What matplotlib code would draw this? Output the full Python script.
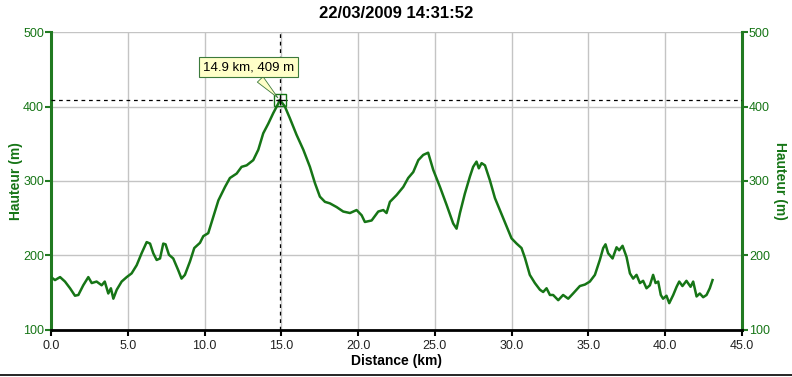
import matplotlib
matplotlib.use("Agg")
import matplotlib.pyplot as plt
from matplotlib.lines import Line2D

plt.rcParams['font.family'] = ['Liberation Sans', 'DejaVu Sans']

# elevation profile
dist_km = [0.0, 0.26, 0.59, 0.91, 1.24, 1.56, 1.78, 2.1, 2.43, 2.65, 2.97, 3.3, 3.5,
           3.73, 3.9, 4.06, 4.28, 4.6, 4.93, 5.25, 5.58, 5.9, 6.23, 6.45, 6.66, 6.88,
           7.1, 7.31, 7.46, 7.68, 7.96, 8.29, 8.5, 8.72, 9.05, 9.33, 9.7, 9.92, 10.24,
           10.57, 10.9, 11.33, 11.65, 12.09, 12.41, 12.74, 13.17, 13.5, 13.82, 14.15,
           14.47, 14.8, 14.9, 15.23, 15.56, 15.99, 16.43, 16.86, 17.19, 17.51, 17.84,
           18.16, 18.6, 19.03, 19.47, 19.9, 20.23, 20.44, 20.88, 21.31, 21.64, 21.85,
           22.07, 22.5, 22.94, 23.26, 23.59, 23.92, 24.24, 24.56, 24.89, 25.33, 25.76,
           26.19, 26.41, 26.63, 26.95, 27.28, 27.49, 27.71, 27.86, 28.04, 28.26, 28.58,
           28.91, 29.23, 29.67, 29.99, 30.32, 30.64, 30.86, 31.18, 31.51, 31.84, 32.05,
           32.27, 32.49, 32.7, 33.03, 33.35, 33.68, 34.0, 34.44, 34.77, 35.09, 35.42,
           35.74, 35.96, 36.11, 36.28, 36.57, 36.83, 37.0, 37.22, 37.48, 37.7, 37.91,
           38.13, 38.35, 38.56, 38.78, 39.0, 39.21, 39.37, 39.54, 39.71, 39.86, 40.08,
           40.26, 40.52, 40.74, 40.91, 41.12, 41.38, 41.65, 41.82, 42.04, 42.25, 42.47,
           42.69, 42.9, 43.08]
height_m = [171, 167, 171, 165, 156, 146, 147, 160, 171, 163, 165, 160, 165,
            149, 156, 142, 154, 165, 171, 176, 187, 203, 218, 216, 203, 194,
            196, 216, 215, 201, 196, 180, 169, 174, 192, 210, 217, 226, 230,
            252, 274, 292, 304, 310, 319, 321, 328, 342, 364, 377,
            391, 404, 409, 400, 384, 362, 342, 319, 297, 279, 272,
            270, 265, 259, 257, 261, 254, 245, 247, 259, 261, 257,
            272, 281, 292, 304, 312, 328, 335, 338, 315, 292, 268,
            243, 236, 257, 283, 306, 319, 326, 317, 324, 321, 301,
            277, 261, 239, 223, 216, 210, 197, 174, 163, 154, 151,
            156, 147, 147, 140, 147, 142, 149, 159, 161, 165, 174,
            194, 210, 215, 203, 196, 211, 207, 213, 198, 176, 169,
            174, 163, 166, 156, 160, 174, 163, 165, 147, 142, 146,
            136, 147, 158, 165, 159, 166, 158, 165, 145, 149, 144,
            147, 156, 167]

cursor_km = 14.9
cursor_m = 409
title = "22/03/2009 14:31:52"

GREEN = '#167516'
SPINE_GREEN = '#217a21'

fig = plt.figure(figsize=(7.92, 3.77), dpi=100)
ax = fig.add_axes([0.0644, 0.1247, 0.8725, 0.7904])

ax.plot(dist_km, height_m, color=GREEN, lw=1.8, zorder=3)

ax.set_xlim(0, 45)
ax.set_ylim(100, 500)
ax.set_xticks([0, 5, 10, 15, 20, 25, 30, 35, 40, 45])
ax.set_xticklabels([f"{v:.1f}" for v in ax.get_xticks()])
ax.set_yticks([100, 200, 300, 400, 500])
ax.grid(True, color='#c4c4c4', lw=1)
ax.set_axisbelow(True)

for s in ['left', 'right']:
    ax.spines[s].set_color(SPINE_GREEN)
    ax.spines[s].set_linewidth(2.2)
ax.spines['top'].set_visible(False)
ax.spines['bottom'].set_color('black')
ax.spines['bottom'].set_linewidth(2)

ax.tick_params(axis='x', colors='black', labelcolor='#222222', labelsize=9, length=4, width=1.5)
ax.tick_params(axis='y', colors=SPINE_GREEN, labelcolor=GREEN, labelsize=9, length=4, width=1.5,
               right=True, labelright=True, pad=1)

ax.set_xlabel("Distance (km)", fontweight='bold', fontsize=10, labelpad=1)
fig.text(16 / 792, 1 - 181 / 377, "Hauteur (m)", fontweight='bold', fontsize=10,
         color=GREEN, rotation=90, ha='center', va='center')
fig.text(780 / 792, 1 - 181 / 377, "Hauteur (m)", fontweight='bold', fontsize=10,
         color=GREEN, rotation=-90, ha='center', va='center')

fig.suptitle(title, fontweight='bold', fontsize=12, y=0.985)

# crosshair cursor
ax.axhline(cursor_m, color='black', lw=0.9, ls=(0, (3, 3)), zorder=4)
ax.axvline(cursor_km, color='black', lw=0.9, ls=(0, (3, 3)), zorder=4)
ax.plot([cursor_km], [cursor_m], marker='s', ms=8, mfc='none', mec=GREEN, mew=1, zorder=5)
ax.plot([cursor_km], [cursor_m], marker='+', ms=6, color='black', mew=0.9, zorder=6)

ax.annotate(f"{cursor_km} km, {cursor_m} m", xy=(cursor_km, cursor_m),
            xytext=(12.85, 453), textcoords='data', ha='center', va='center',
            fontsize=9.5,
            bbox=dict(boxstyle='square,pad=0.3', fc='#ffffc8', ec='#3c7a3c', lw=0.8),
            arrowprops=dict(arrowstyle='wedge,tail_width=0.6,shrink_factor=0.5',
                            fc='#ffffc8', ec='#3c7a3c', lw=0.6),
            zorder=7)

# window border at the bottom
fig.add_artist(Line2D([0, 1], [0.004, 0.004], color='black', lw=1.2,
                      transform=fig.transFigure))

fig.savefig("out.png", dpi=100)
